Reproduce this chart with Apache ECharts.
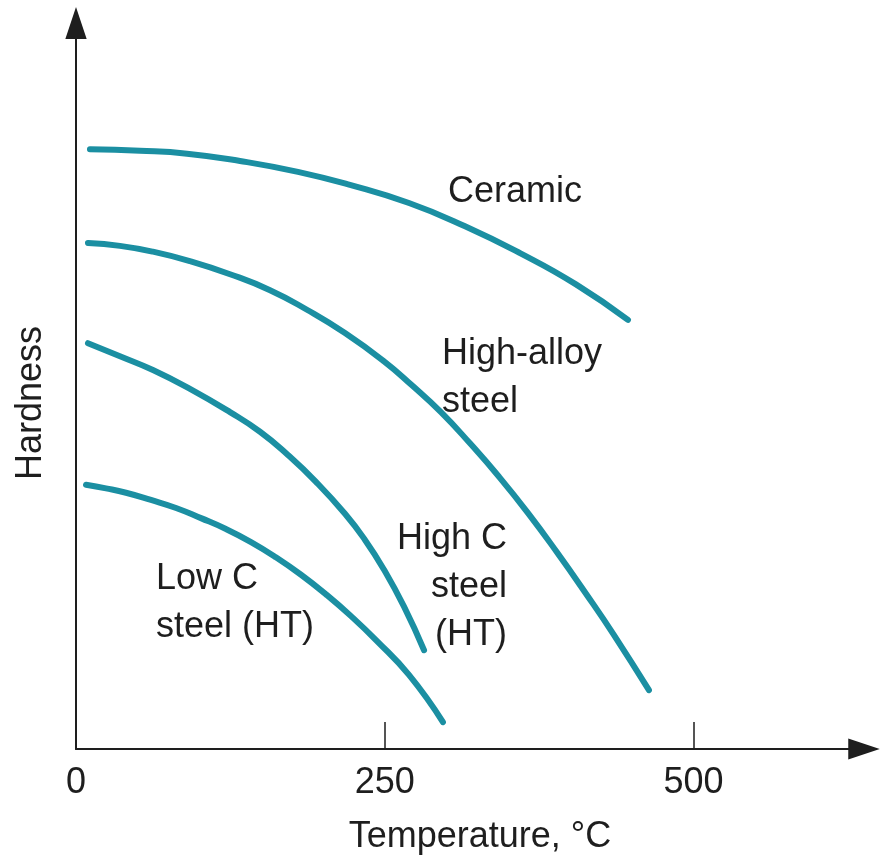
<!DOCTYPE html>
<html>
<head>
<meta charset="utf-8">
<script src="https://cdn.jsdelivr.net/npm/echarts@6/dist/echarts.min.js"></script>
<style>
html,body{margin:0;padding:0;background:#fff;}
#chart{width:885px;height:865px;}
</style>
</head>
<body>
<div id="chart"></div>
<script>
// Temperature (°C) vs hardness (arbitrary units, 0–100)
const ceramic = [[11.3,82.6],[51.8,82.4],[89.9,82.0],[132.8,81.0],[179.7,79.5],[221.8,77.7],[269.6,75.2],[315.0,72.0],[359.5,68.3],[404.8,64.0],[446.9,59.1]];
const highAlloy = [[9.7,69.7],[35.6,69.3],[62.3,68.5],[92.3,67.2],[124.7,65.4],[157.1,63.2],[187.0,60.5],[217.8,57.3],[249.4,53.4],[272.0,50.1],[295.5,46.4],[319.0,42.1],[342.5,37.5],[366.0,32.5],[389.4,27.1],[412.1,21.6],[435.6,15.7],[463.9,8.1]];
const highC = [[9.7,55.9],[35.6,54.1],[62.3,52.2],[92.3,49.6],[124.7,46.4],[149.0,43.7],[171.6,40.5],[194.3,36.8],[217.8,32.4],[234.0,28.8],[249.4,24.7],[265.6,19.6],[281.8,13.6]];
const lowC = [[8.1,36.4],[24.3,35.9],[40.5,35.3],[60.7,34.3],[81.0,33.2],[101.2,31.8],[121.4,30.3],[141.7,28.5],[161.9,26.4],[182.2,24.0],[202.4,21.3],[222.7,18.3],[242.9,15.0],[269.6,10.2],[297.1,3.7]];
const xTicks = [0, 250, 500];
const xTickMarks = [250, 500];
const xName = 'Temperature, \u00B0C';
const yName = 'Hardness';
const curveNames = ['Ceramic', 'High-alloy steel', 'High C steel (HT)', 'Low C steel (HT)'];

const FONT = '"Liberation Sans", Arial, Helvetica, sans-serif';
const TEAL = '#1b8fa2';
const INK = '#1e1e1e';
const arrowPath = 'path://M0,0 L10,30 L-10,30 Z';

const chart = echarts.init(document.getElementById('chart'), null, {renderer: 'canvas'});

function lineSeries(name, data) {
  return {
    name: name, type: 'line', data: data, smooth: true,
    showSymbol: false, symbol: 'none',
    lineStyle: {color: TEAL, width: 6, cap: 'round', join: 'round'},
    silent: true, animation: false
  };
}

function label(text, x, y, align) {
  return {type: 'text', x: x, y: y, silent: true,
    style: {text: text, font: '36px ' + FONT, fill: INK, lineHeight: 48,
      align: align || 'left', verticalAlign: 'top'}};
}

const option = {
  backgroundColor: '#ffffff',
  animation: false,
  grid: {left: 76, right: 21, top: 23, bottom: 116, containLabel: false, outerBoundsMode: 'none'},
  xAxis: {
    type: 'value', min: 0, max: 638,
    name: xName, nameLocation: 'middle', nameGap: 70,
    nameTextStyle: {fontFamily: FONT, fontSize: 36, color: INK, padding: [0, 0, 0, 20]},
    axisLine: {show: true, onZero: false, symbol: ['none', arrowPath], symbolSize: [21, 32],
      lineStyle: {color: INK, width: 2}},
    axisTick: {show: true, inside: true, length: 27, customValues: xTickMarks,
      lineStyle: {color: INK, width: 1.5}},
    axisLabel: {show: true, customValues: xTicks, margin: 16,
      fontFamily: FONT, fontSize: 36, color: INK},
    splitLine: {show: false}
  },
  yAxis: {
    type: 'value', min: 0, max: 100,
    name: yName, nameLocation: 'middle', nameRotate: 90, nameGap: 27,
    nameTextStyle: {fontFamily: FONT, fontSize: 36, color: INK, padding: [0, 34, 0, 0]},
    axisLine: {show: true, onZero: false, symbol: ['none', arrowPath], symbolSize: [23, 32],
      lineStyle: {color: INK, width: 2}},
    axisTick: {show: false},
    axisLabel: {show: false},
    splitLine: {show: false}
  },
  series: [
    lineSeries(curveNames[0], ceramic),
    lineSeries(curveNames[1], highAlloy),
    lineSeries(curveNames[2], highC),
    lineSeries(curveNames[3], lowC)
  ],
  graphic: [
    label('Ceramic', 448, 168),
    label('High-alloy\nsteel', 442, 330),
    label('High C\nsteel\n(HT)', 507, 515, 'right'),
    label('Low C\nsteel (HT)', 156, 555)
  ]
};
chart.setOption(option);
</script>
</body>
</html>
